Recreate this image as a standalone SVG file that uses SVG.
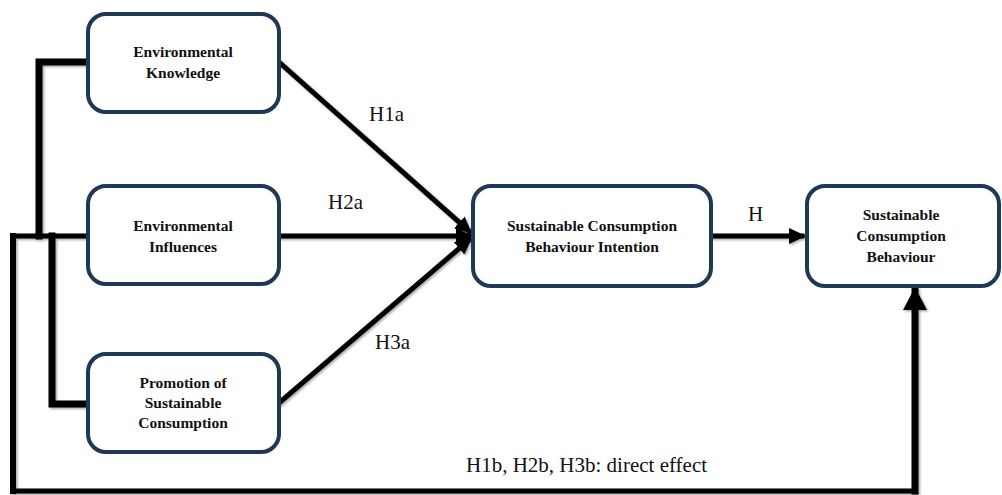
<svg xmlns="http://www.w3.org/2000/svg" width="1002" height="495" viewBox="0 0 1002 495">
<style>
.box{fill:#fff;stroke:#1e3856;stroke-width:4}
.nt{font-family:'Liberation Serif','Times New Roman',Times,'DejaVu Serif',serif;font-weight:bold;font-size:15.5px;fill:#111;text-anchor:middle}
.lb{font-family:'Liberation Serif','Times New Roman',Times,'DejaVu Serif',serif;font-size:21px;fill:#111}
.ln{fill:none;stroke:#000;stroke-linejoin:miter;stroke-linecap:square}
</style>
<defs>
<filter id="sh" x="-5%" y="-5%" width="110%" height="110%">
<feDropShadow dx="1.5" dy="1.5" stdDeviation="1" flood-color="#000" flood-opacity="0.35"/>
</filter>
<marker id="ah" markerUnits="userSpaceOnUse" markerWidth="17" markerHeight="16" refX="13" refY="8" orient="auto">
<path d="M0,0 L17,8 L0,16 z" fill="#000"/>
</marker>
<marker id="ahb" markerUnits="userSpaceOnUse" markerWidth="23" markerHeight="24" refX="19" refY="12" orient="auto">
<path d="M0,0 L23,12 L0,24 z" fill="#000"/>
</marker>
</defs>
<g id="connectors" filter="url(#sh)">
<path class="ln" d="M87,62 H39 V236" stroke-width="7"/>
<path class="ln" d="M87,236 H13 V491 H915" stroke-width="5"/>
<path class="ln" d="M13,236 V491" stroke-width="6"/>
<path class="ln" d="M52,236 V404 H87" stroke-width="7"/>
<path class="ln" d="M915,491 V291" stroke-width="7" stroke-linecap="butt" marker-end="url(#ahb)"/>
<path class="ln" d="M279,62 L469,231" stroke-width="5" stroke-linecap="butt" marker-end="url(#ah)"/>
<path class="ln" d="M279,236 H469" stroke-width="5" stroke-linecap="butt" marker-end="url(#ah)"/>
<path class="ln" d="M279,403 L469,240" stroke-width="5" stroke-linecap="butt" marker-end="url(#ah)"/>
<path class="ln" d="M711,236 H802" stroke-width="5" stroke-linecap="butt" marker-end="url(#ah)"/>
</g>
<g id="ek">
<rect class="box" x="88" y="14" width="191" height="98" rx="18"/>
<text class="nt" x="183" y="57">Environmental</text>
<text class="nt" x="183" y="78">Knowledge</text>
</g>
<g id="ei">
<rect class="box" x="88" y="186" width="191" height="98" rx="18"/>
<text class="nt" x="183" y="231">Environmental</text>
<text class="nt" x="183" y="252">Influences</text>
</g>
<g id="psc">
<rect class="box" x="88" y="354" width="191" height="98" rx="18"/>
<text class="nt" x="183" y="388">Promotion of</text>
<text class="nt" x="183" y="408">Sustainable</text>
<text class="nt" x="183" y="428">Consumption</text>
</g>
<g id="scbi">
<rect class="box" x="473" y="186" width="238" height="100" rx="18"/>
<text class="nt" x="592" y="231">Sustainable Consumption</text>
<text class="nt" x="592" y="252">Behaviour Intention</text>
</g>
<g id="scb">
<rect class="box" x="807" y="186" width="192" height="100" rx="18"/>
<text class="nt" x="901" y="220">Sustainable</text>
<text class="nt" x="901" y="241">Consumption</text>
<text class="nt" x="901" y="262">Behaviour</text>
</g>
<g id="labels">
<text class="lb" x="369" y="121">H1a</text>
<text class="lb" x="328" y="209">H2a</text>
<text class="lb" x="375" y="349">H3a</text>
<text class="lb" x="748" y="221">H</text>
<text class="lb" x="466" y="472">H1b, H2b, H3b: direct effect</text>
</g>
</svg>
